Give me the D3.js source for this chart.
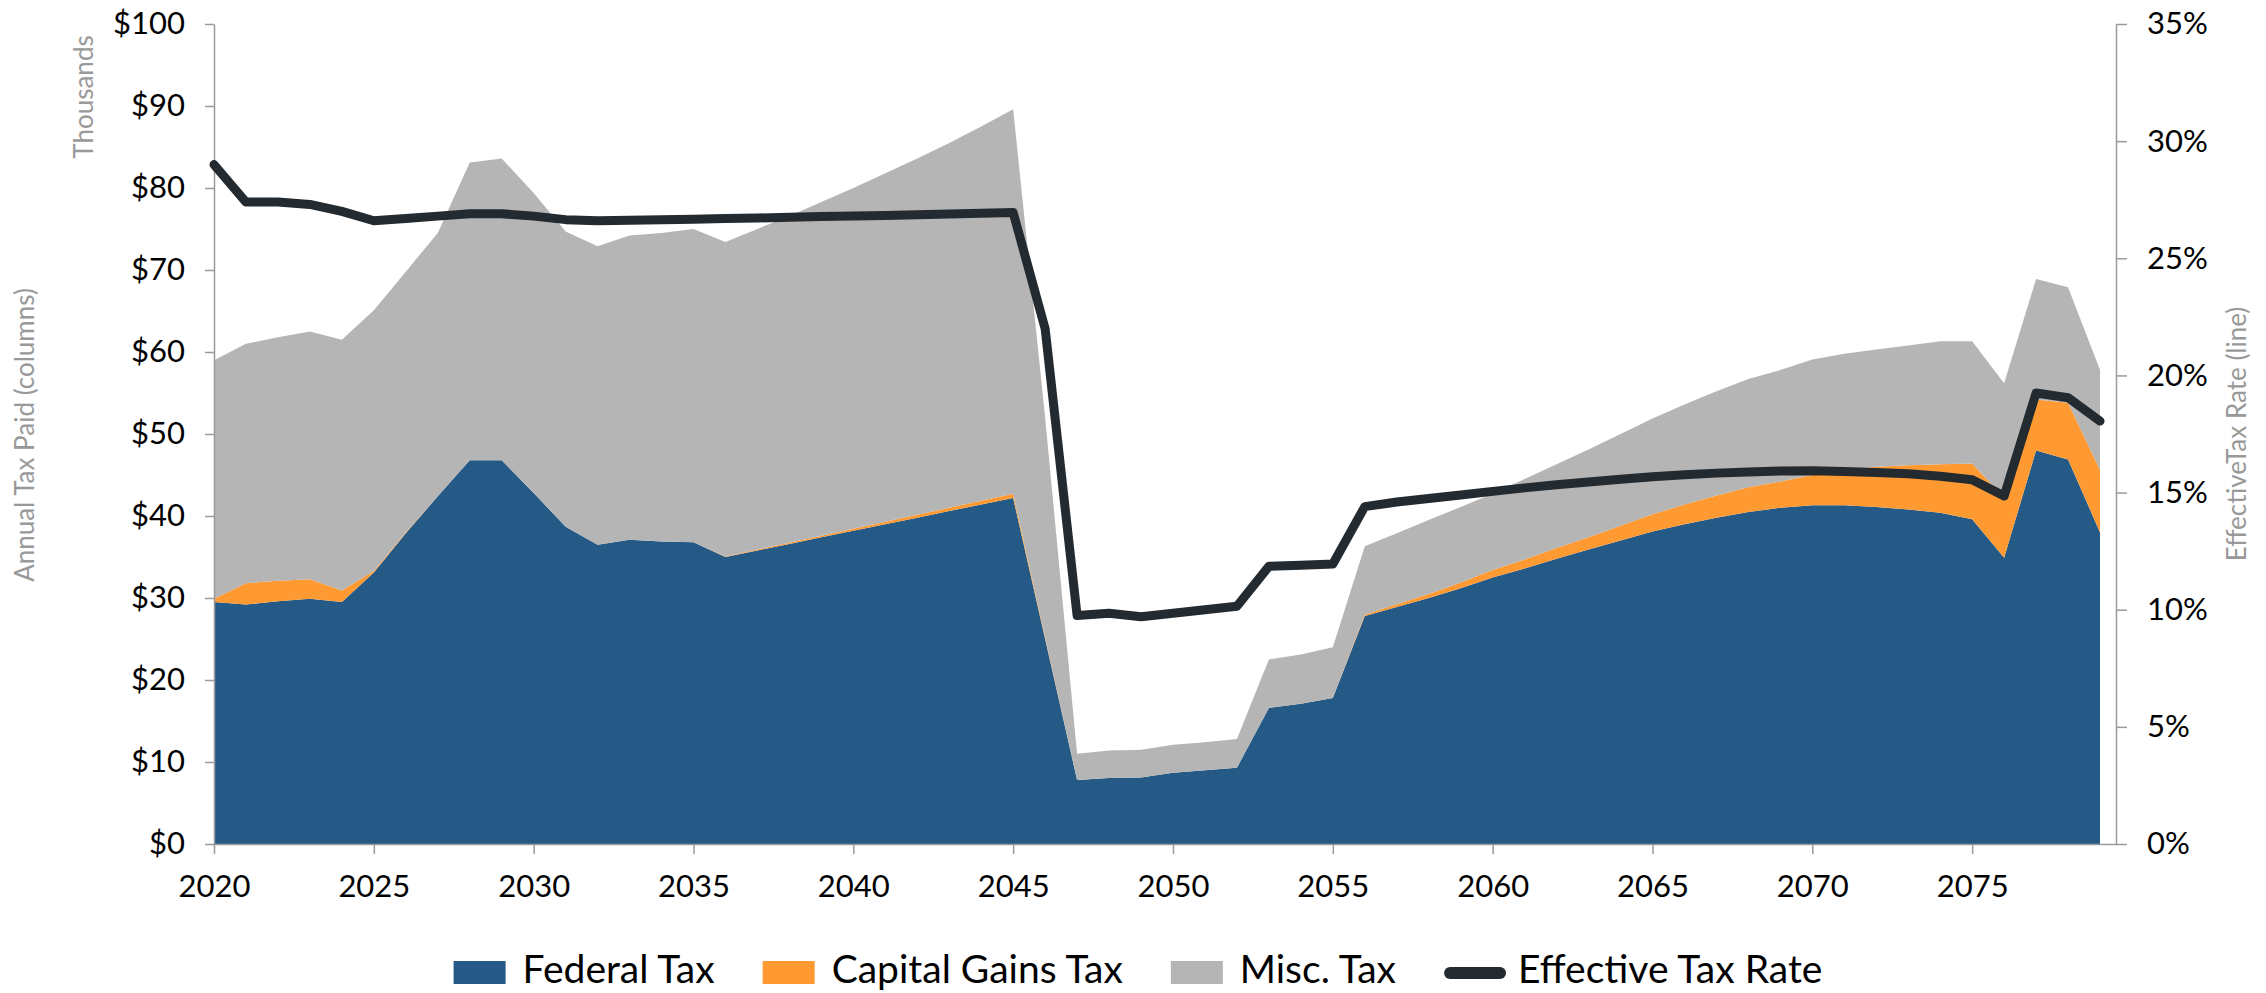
<!DOCTYPE html>
<html lang="en">
<head>
<meta charset="utf-8">
<title>Annual Tax Paid</title>
<script src="https://cdn.jsdelivr.net/npm/d3@7"></script>
<style>
  body { margin: 0; background: #fff; }
  text { font-family: Lato, "Open Sans", sans-serif; }
</style>
</head>
<body>
<script>
// chart values (thousands of $ and %)
var years = [2020, 2021, 2022, 2023, 2024, 2025, 2026, 2027, 2028, 2029,
             2030, 2031, 2032, 2033, 2034, 2035, 2036, 2037, 2038, 2039,
             2040, 2041, 2042, 2043, 2044, 2045, 2046, 2047, 2048, 2049,
             2050, 2051, 2052, 2053, 2054, 2055, 2056, 2057, 2058, 2059,
             2060, 2061, 2062, 2063, 2064, 2065, 2066, 2067, 2068, 2069,
             2070, 2071, 2072, 2073, 2074, 2075, 2076, 2077, 2078, 2079];

var federal = [29.5, 29.2, 29.6, 29.9, 29.5, 33.1, 37.9, 42.4, 46.8, 46.8,
               42.8, 38.7, 36.5, 37.1, 36.9, 36.8, 35.0, 35.8, 36.6, 37.4,
               38.2, 39.0, 39.8, 40.6, 41.4, 42.2, 25.0, 7.8, 8.05, 8.1,
               8.7, 9.0, 9.3, 16.6, 17.1, 17.8, 27.8, 28.9, 30.0, 31.2,
               32.5, 33.6, 34.8, 35.9, 37.0, 38.1, 39.0, 39.8, 40.5, 41.0,
               41.3, 41.3, 41.1, 40.8, 40.4, 39.6, 34.9, 48.0, 46.9, 38.0];

var capGains = [0.4, 2.6, 2.5, 2.4, 1.4, 0.2, 0.1, 0, 0, 0,
                0, 0, 0, 0, 0, 0, 0.05, 0.1, 0.15, 0.2,
                0.25, 0.3, 0.35, 0.4, 0.45, 0.5, 0.2, 0, 0, 0,
                0, 0, 0, 0, 0, 0, 0.2, 0.35, 0.5, 0.7,
                0.9, 1.1, 1.3, 1.5, 1.8, 2.1, 2.4, 2.7, 3.0, 3.2,
                3.7, 4.3, 4.9, 5.4, 5.9, 6.8, 7.3, 6.2, 6.9, 7.6];

var misc = [29.1, 29.2, 29.7, 30.2, 30.6, 31.8, 31.8, 32.1, 36.3, 36.8,
            36.6, 36.0, 36.4, 37.1, 37.6, 38.2, 38.35, 39.1, 39.85, 40.7,
            41.55, 42.5, 43.45, 44.5, 45.65, 46.9, 26.8, 3.2, 3.35, 3.4,
            3.4, 3.4, 3.5, 5.9, 6.0, 6.2, 8.3, 8.65, 9.0, 9.2,
            9.3, 9.8, 10.2, 10.7, 11.2, 11.7, 12.2, 12.7, 13.2, 13.6,
            14.1, 14.2, 14.3, 14.6, 15.0, 14.9, 14.0, 14.7, 14.1, 12.2];

var effRate = [29.0, 27.4, 27.4, 27.3, 27.0, 26.6, 26.7, 26.8, 26.9, 26.9,
               26.8, 26.65, 26.6, 26.62, 26.65, 26.67, 26.7, 26.72, 26.75, 26.78,
               26.8, 26.83, 26.86, 26.89, 26.92, 26.95, 22.0, 9.75, 9.85, 9.7,
               9.85, 10.0, 10.15, 11.85, 11.9, 11.95, 14.4, 14.6, 14.75, 14.9,
               15.05, 15.2, 15.33, 15.45, 15.57, 15.68, 15.76, 15.83, 15.88, 15.92,
               15.93, 15.9, 15.86, 15.8, 15.7, 15.55, 14.85, 19.25, 19.05, 18.05];

var yearTicks = [2020, 2025, 2030, 2035, 2040, 2045, 2050, 2055, 2060, 2065, 2070, 2075];
var dollarTicks = [0, 10, 20, 30, 40, 50, 60, 70, 80, 90, 100];
var rateTicks = [0, 5, 10, 15, 20, 25, 30, 35];

var seriesNames = ["Federal Tax", "Capital Gains Tax", "Misc. Tax"];
var seriesKeys = ["federal", "capital", "misc"];
var seriesColors = ["#255A87", "#FF9A33", "#B5B5B5"];
var lineName = "Effective Tax Rate";
var lineColor = "#232B30";

var w = 2266;
var h = 993;

var svg = d3.select("body")
            .append("svg")
            .attr("width", w)
            .attr("height", h);

// scales
var xScale = d3.scaleLinear().domain([2020, 2079.5]).range([214, 2116]);
var yLeft = d3.scaleLinear().domain([0, 100]).range([844, 24]);
var yRight = d3.scaleLinear().domain([0, 35]).range([844, 24]);

// build rows for the stack
var table = years.map(function(y, i) {
  return { year: y, federal: federal[i], capital: capGains[i], misc: misc[i], rate: effRate[i] };
});

var stacked = d3.stack().keys(seriesKeys)(table);

var area = d3.area()
  .x(function(d) { return xScale(d.data.year); })
  .y0(function(d) { return yLeft(d[0]); })
  .y1(function(d) { return yLeft(d[1]); });

svg.selectAll("path.layer")
   .data(stacked)
   .enter()
   .append("path")
   .attr("class", "layer")
   .attr("d", area)
   .attr("fill", function(d, i) { return seriesColors[i]; });

// axes
var styleAxis = function(g) {
  g.select(".domain").attr("stroke", "#9a9a9a").attr("stroke-width", 1.5);
  g.selectAll(".tick line").attr("stroke", "#9a9a9a").attr("stroke-width", 1.5);
  g.selectAll(".tick text").attr("fill", "#000").attr("font-size", 31)
   .attr("font-family", "Lato, 'Open Sans', sans-serif");
};

svg.append("g")
   .attr("transform", "translate(0,844)")
   .call(d3.axisBottom(xScale).tickValues(yearTicks).tickFormat(d3.format("d"))
           .tickSize(10).tickSizeOuter(0).tickPadding(21))
   .call(styleAxis);

svg.append("g")
   .attr("transform", "translate(214,0)")
   .call(d3.axisLeft(yLeft).tickValues(dollarTicks).tickFormat(function(d) { return "$" + d; })
           .tickSize(9).tickSizeOuter(0).tickPadding(20))
   .call(styleAxis);

svg.append("g")
   .attr("transform", "translate(2116,0)")
   .call(d3.axisRight(yRight).tickValues(rateTicks).tickFormat(function(d) { return d + "%"; })
           .tickSize(11).tickSizeOuter(0).tickPadding(20))
   .call(styleAxis);

// effective rate line on the right scale
var line = d3.line()
  .x(function(d) { return xScale(d.year); })
  .y(function(d) { return yRight(d.rate); });

svg.append("path")
   .datum(table)
   .attr("d", line)
   .attr("fill", "none")
   .attr("stroke", lineColor)
   .attr("stroke-width", 9)
   .attr("stroke-linejoin", "round")
   .attr("stroke-linecap", "round");

// axis titles
var title = function(x, y, txt) {
  svg.append("text")
     .attr("transform", "translate(" + x + "," + y + ") rotate(-90)")
     .attr("text-anchor", "middle")
     .attr("font-size", 26)
     .attr("fill", "#999")
     .text(txt);
};
title(34, 435, "Annual Tax Paid (columns)");
title(93, 97, "Thousands");
title(2246, 434, "EffectiveTax Rate (line)");

// legend
var legend = svg.append("g");
var lx = 0;
var items = seriesNames.concat([lineName]);
items.forEach(function(name, i) {
  var g = legend.append("g").attr("transform", "translate(" + lx + ",0)");
  var iconW;
  if (i < seriesNames.length) {
    iconW = 52;
    g.append("rect").attr("x", 0).attr("y", -22).attr("width", 52).attr("height", 23)
     .attr("fill", seriesColors[i]);
  } else {
    iconW = 62;
    g.append("line").attr("x1", 6).attr("x2", 56).attr("y1", -10).attr("y2", -10)
     .attr("stroke", lineColor).attr("stroke-width", 12).attr("stroke-linecap", "round");
  }
  var t = g.append("text")
           .attr("x", iconW + (i < seriesNames.length ? 17 : 12))
           .attr("y", 0)
           .attr("font-size", 39)
           .attr("fill", "#000")
           .text(name);
  lx += iconW + (i < seriesNames.length ? 17 : 12) + t.node().getComputedTextLength() + 48;
});
var legendW = lx - 48;
legend.attr("transform", "translate(" + (1138 - legendW / 2) + ",983)");
</script>
</body>
</html>
